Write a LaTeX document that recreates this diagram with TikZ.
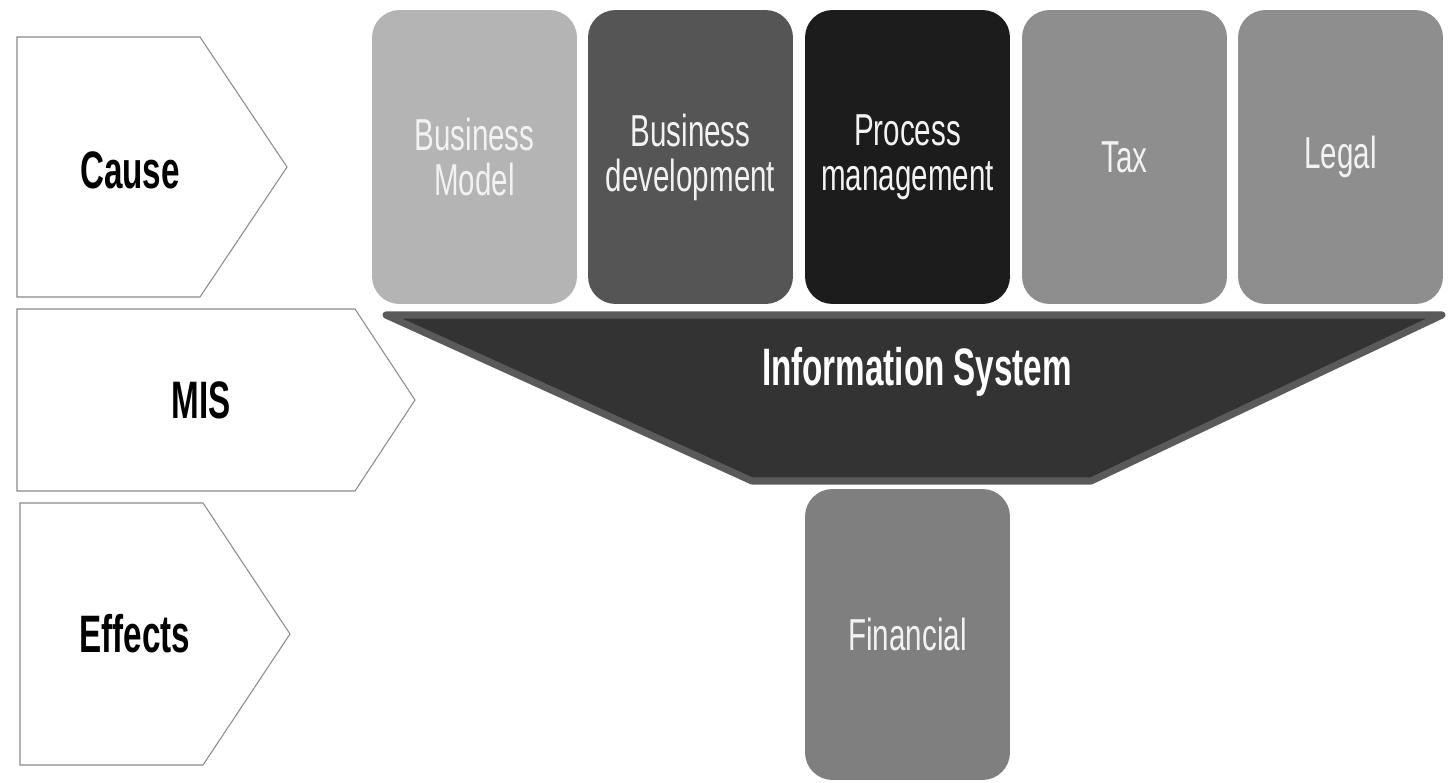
\documentclass[tikz,border=0pt]{standalone}
\usepackage{fontspec}
\setmainfont{Liberation Sans}
\newfontfamily\narrowsf[FakeStretch=0.63]{Liberation Sans}
\newfontfamily\tilesf[FakeStretch=0.66]{Liberation Sans}
\usepackage{xcolor}
\usepackage{tikz}
\definecolor{chevline}{HTML}{8A8A8A}
\definecolor{lightgray}{HTML}{B4B4B4}
\definecolor{midgray}{HTML}{555555}
\definecolor{darkgray}{HTML}{1C1C1C}
\definecolor{plaingray}{HTML}{8E8E8E}
\definecolor{fingray}{HTML}{7F7F7F}
\definecolor{funnelbody}{HTML}{333333}
\definecolor{funnelrim}{HTML}{5A5A5A}
\definecolor{tiletext}{HTML}{F2F2F2}

\begin{document}
\begin{tikzpicture}[x=0.02cm,y=-0.02cm,
    chevron/.style={draw=chevline,line width=0.6pt,fill=white},
    lbl/.style={font=\narrowsf\bfseries\fontsize{30}{32}\selectfont},
    tile/.style={rounded corners=0.55cm,minimum width=4.1cm,minimum height=5.88cm,
      inner sep=0pt,text=tiletext,align=center,
      font=\tilesf\fontsize{25.5}{25.6}\selectfont}]
    \useasboundingbox (0,0) rectangle (1448,782);
    % left column
    \draw[chevron] (17,37) -- (200,37) -- (287,167) -- (200,297) -- (17,297) -- cycle;
    \draw[chevron] (17,309) -- (355,309) -- (415,400) -- (355,491) -- (17,491) -- cycle;
    \draw[chevron] (20,503) -- (203,503) -- (290,634) -- (203,765) -- (20,765) -- cycle;
    \node[lbl] (cause) at (130,170) {Cause};
    \node[lbl] (mis) at (201,400) {MIS};
    \node[lbl] (effects) at (135,634) {Effects};
    %
    \node[tile,fill=lightgray] (model) at (474.5,157) {Business\\Model};
    \node[tile,fill=midgray] (develop) at (690.5,157) {Business\\development};
    \node[tile,fill=darkgray] (process) at (907.5,157) {Process\\management};
    \node[tile,fill=plaingray] (tax) at (1124.5,157) {Tax};
    \node[tile,fill=plaingray] (legal) at (1340.5,157) {Legal};
    %
    \draw[draw=funnelrim,fill=funnelbody,line width=4pt,line join=round]
      (386,315) -- (1442,315) -- (1091,481) -- (752,481) -- cycle;
    \node[font=\narrowsf\bfseries\fontsize{30}{32}\selectfont,text=white] (infosys)
      at (917,372) {Information System};
    %
    \node[tile,fill=fingray,minimum height=5.82cm] (financial) at (907.5,634.5) {Financial};
\end{tikzpicture}
\end{document}
